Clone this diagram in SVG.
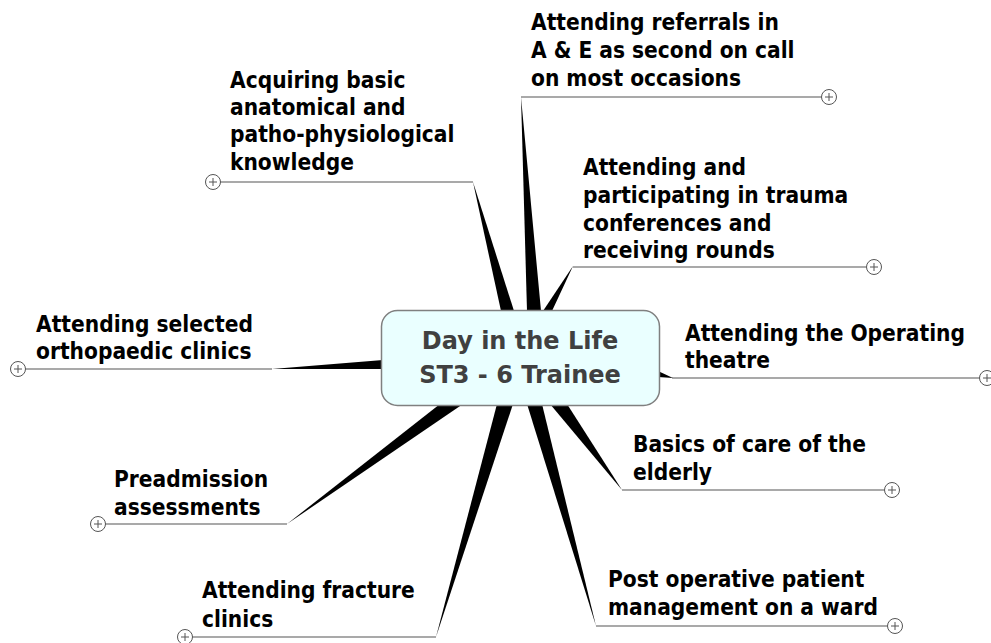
<svg xmlns="http://www.w3.org/2000/svg" width="991" height="643" viewBox="0 0 991 643">
<defs>
<style>
.w{fill:#000;stroke:none}
.u{stroke:#555;stroke-width:1.2;fill:none}
.pc{fill:#fff;stroke:#555;stroke-width:1}
.pl{stroke:#555;stroke-width:1}
.t{font-family:"DejaVu Sans Condensed","DejaVu Sans",sans-serif;font-weight:bold;font-size:22.5px;fill:#000}
.c{font-family:"DejaVu Sans",sans-serif;font-weight:bold;font-size:24px;fill:#404040;text-anchor:middle}
</style>
</defs>
<rect width="991" height="643" fill="#fff"/>
<g id="connectors">
<polygon class="w" points="521,97 527,311 541,311"/>
<polygon class="w" points="473,182 501,311 514,311"/>
<polygon class="w" points="573,266 543,311 552,311"/>
<polygon class="w" points="673,378 658,371 658,377"/>
<polygon class="w" points="622,490 550,404 567,404"/>
<polygon class="w" points="596,626 527,404 542,404"/>
<polygon class="w" points="436,637 497,404 513,404"/>
<polygon class="w" points="287,524 440,404 463,404"/>
<polygon class="w" points="272,369 383,360 383,369"/>
<path class="u" d="M521,97H822 M220,182H473 M573,267H866 M672,378H980 M622,490H885 M596,626H888 M192,637H436 M105,524H287 M25,369H272"/>
</g>
<g id="center">
<rect x="381.5" y="310.5" width="278" height="95" rx="16" fill="#eaffff" stroke="#808080" stroke-width="1.5"/>
<text class="c" x="520" y="349">Day in the Life</text>
<text class="c" x="520" y="383">ST3 - 6 Trainee</text>
</g>
<g id="n-referrals">
<text class="t" x="531" y="30">Attending referrals in</text>
<text class="t" x="531" y="58">A &amp; E as second on call</text>
<text class="t" x="531" y="86">on most occasions</text>
<circle class="pc" cx="829" cy="97" r="7.5"/><path class="pl" d="M825,97H833M829,93V101"/>
</g>
<g id="n-acquiring">
<text class="t" x="230" y="88">Acquiring basic</text>
<text class="t" x="230" y="115">anatomical and</text>
<text class="t" x="230" y="142">patho-physiological</text>
<text class="t" x="230" y="170">knowledge</text>
<circle class="pc" cx="213" cy="182" r="7.5"/><path class="pl" d="M209,182H217M213,178V186"/>
</g>
<g id="n-trauma">
<text class="t" x="583" y="175">Attending and</text>
<text class="t" x="583" y="203">participating in trauma</text>
<text class="t" x="583" y="231">conferences and</text>
<text class="t" x="583" y="258">receiving rounds</text>
<circle class="pc" cx="874" cy="267" r="7.5"/><path class="pl" d="M870,267H878M874,263V271"/>
</g>
<g id="n-operating">
<text class="t" x="685" y="341">Attending the Operating</text>
<text class="t" x="685" y="368">theatre</text>
<circle class="pc" cx="987" cy="378" r="7.5"/><path class="pl" d="M983,378H991M987,374V382"/>
</g>
<g id="n-elderly">
<text class="t" x="633" y="452">Basics of care of the</text>
<text class="t" x="633" y="480">elderly</text>
<circle class="pc" cx="892" cy="490" r="7.5"/><path class="pl" d="M888,490H896M892,486V494"/>
</g>
<g id="n-postop">
<text class="t" x="608" y="587">Post operative patient</text>
<text class="t" x="608" y="615">management on a ward</text>
<circle class="pc" cx="895" cy="626" r="7.5"/><path class="pl" d="M891,626H899M895,622V630"/>
</g>
<g id="n-fracture">
<text class="t" x="202" y="598">Attending fracture</text>
<text class="t" x="202" y="627">clinics</text>
<circle class="pc" cx="185" cy="637" r="7.5"/><path class="pl" d="M181,637H189M185,633V641"/>
</g>
<g id="n-preadmission">
<text class="t" x="114" y="487">Preadmission</text>
<text class="t" x="114" y="515">assessments</text>
<circle class="pc" cx="98" cy="524" r="7.5"/><path class="pl" d="M94,524H102M98,520V528"/>
</g>
<g id="n-ortho">
<text class="t" x="36" y="332">Attending selected</text>
<text class="t" x="36" y="359">orthopaedic clinics</text>
<circle class="pc" cx="18" cy="369" r="7.5"/><path class="pl" d="M14,369H22M18,365V373"/>
</g>
</svg>
